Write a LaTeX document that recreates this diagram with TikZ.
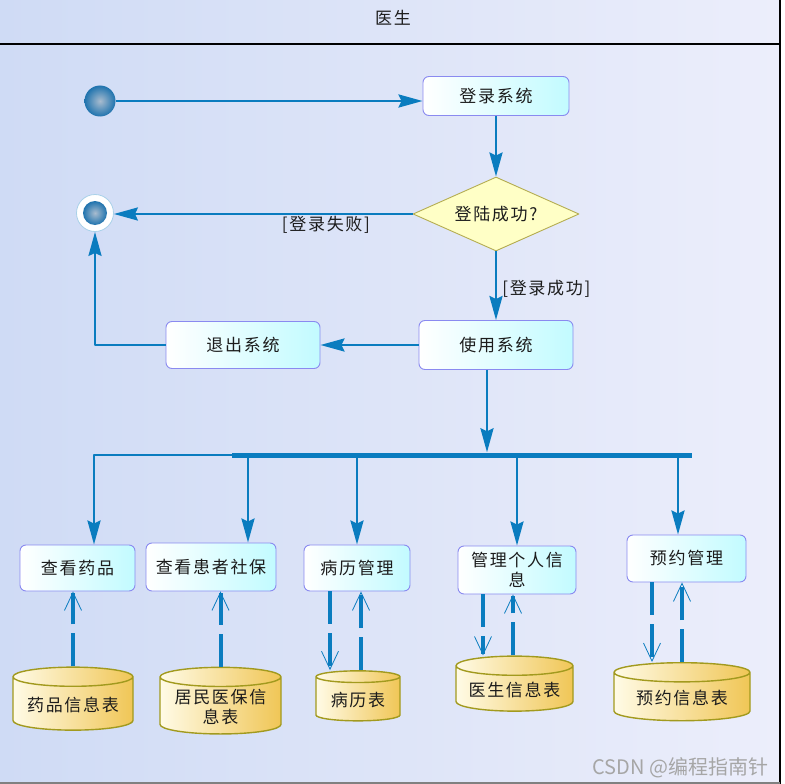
\documentclass[tikz,border=0pt]{standalone}
\usepackage{fontspec}
\usepackage{tikz}
\usetikzlibrary{arrows.meta,positioning,calc,shapes.geometric}
\newfontfamily\cjk[LetterSpace=10]{Noto Sans CJK SC}
\newfontfamily\marksans{Noto Sans CJK SC}
\definecolor{flowblue}{HTML}{0A7CBF}
\definecolor{boxline}{HTML}{8A8AF0}
\definecolor{boxcyan}{HTML}{C2FBFF}
\definecolor{diafill}{HTML}{FFFFC6}
\definecolor{diaedge}{HTML}{B4AC50}
\definecolor{storelight}{HTML}{FFFBE6}
\definecolor{storegold}{HTML}{F0C656}
\definecolor{storeedge}{HTML}{A29A1E}
\definecolor{bgleft}{HTML}{CFDBF5}
\definecolor{bgright}{HTML}{ECEEFB}
\definecolor{ballin}{HTML}{A9BCCF}
\definecolor{ballout}{HTML}{1F73AE}
\definecolor{ink}{HTML}{1C1C1C}
\tikzset{
    every picture/.style={line join=round},
    actbox/.style={draw=boxline,left color=white,right color=boxcyan,line width=0.9pt,
      rounded corners=6pt,inner sep=2pt,text=ink,align=center},
    decision/.style={diamond,draw=diaedge,fill=diafill,line width=0.9pt,aspect=2.25,
      inner sep=0pt,text=ink},
    store/.style={cylinder,shape border rotate=90,aspect=0.2,draw=storeedge,
      left color=storelight,right color=storegold,line width=1.4pt,inner sep=2pt,
      text=ink,align=center},
    ball/.style={circle,inner color=ballin,outer color=ballout,inner sep=0pt},
    flow/.style={draw=flowblue,line width=2.6pt,
      -{Stealth[length=24pt,width=13pt,inset=3pt]}},
    dataflow/.style={draw=flowblue,line width=4pt,dash pattern=on 33pt off 9pt,
      -{Straight Barb[length=18pt,width=17pt,line width'=0.8pt]}},
    guard/.style={text=ink,inner sep=1pt}
}
\begin{document}
\begin{tikzpicture}[x=1pt,y=-1pt,font=\cjk\fontsize{17}{20}\selectfont]
  \useasboundingbox (0,0) rectangle (785,784);
  \fill[left color=bgleft,right color=bgright] (0,0) rectangle (780,782);
  \draw[line width=2pt] (0,44) -- (780,44);
  \draw[line width=1.5pt] (780,0) -- (780,784);
  \draw[gray,line width=1.5pt] (0,783) -- (780,783);
  \node[text=ink] (title) at (393,18) {医生};

  \node[ball,minimum size=31pt] (init) at (100,101) {};
  \node[circle,draw=flowblue!35,fill=white,line width=0.8pt,minimum size=37pt] (final) at (95,213) {};
  \node[ball,minimum size=24pt] (finalin) at (final) {};
  \node[actbox,minimum width=146pt,minimum height=39pt] (login) at (496,96) {登录系统};
  \node[decision,minimum width=166pt,minimum height=74pt] (check) at (496,214) {登陆成功?};
  \node[actbox,minimum width=154pt,minimum height=49pt] (use) at (496,345) {使用系统};
  \node[actbox,minimum width=154pt,minimum height=47pt] (quit) at (243,345) {退出系统};
  \node[fill=flowblue,inner sep=0pt,minimum width=460pt,minimum height=5pt] (fork) at (462,455) {};

  \node[actbox,minimum width=115pt,minimum height=46pt] (a1) at (77.5,568) {查看药品};
  \node[actbox,minimum width=130pt,minimum height=48pt] (a2) at (211,567) {查看患者社保};
  \node[actbox,minimum width=106pt,minimum height=46pt] (a3) at (357,568) {病历管理};
  \node[actbox,minimum width=118pt,minimum height=48pt] (a4) at (517,570) {管理个人信\\息};
  \node[actbox,minimum width=119pt,minimum height=47pt] (a5) at (686.5,558.5) {预约管理};

  \node[store,minimum width=120pt,minimum height=63pt] (s1) at (73,705) {药品信息表};
  \node[store,minimum width=121pt,minimum height=66pt] (s2) at (220.5,707) {居民医保信\\息表};
  \node[store,minimum width=84pt,minimum height=50pt] (s3) at (358,700) {病历表};
  \node[store,minimum width=117pt,minimum height=55pt] (s4) at (514.5,690) {医生信息表};
  \node[store,minimum width=136pt,minimum height=58pt] (s5) at (682,698) {预约信息表};

  \draw[flow] (init.east) -- (init.east -| login.west);
  \draw[flow] (login.south) -- (check.north);
  \draw[flow] (check.west) -- node[guard,below,pos=0.29]{[登录失败]} (check.west -| final.east);
  \draw[flow] (check.south) -- node[guard,right=4pt,pos=0.55]{[登录成功]} (use.north);
  \draw[flow] (use.west) -- (quit.east);
  \draw[flow] (quit.west) -| (final.south);
  \draw[flow] ([xshift=-9pt]use.south) -- ([xshift=-9pt]use.south |- fork.north);

  \draw[flow] (fork.west) -| ([xshift=16.5pt]a1.north);
  \draw[flow] ([xshift=37pt]a2.north |- fork.south) -- ([xshift=37pt]a2.north);
  \draw[flow] (a3.north |- fork.south) -- (a3.north);
  \draw[flow] (a4.north |- fork.south) -- (a4.north);
  \draw[flow] ([xshift=-8.5pt]a5.north |- fork.south) -- ([xshift=-8.5pt]a5.north);

  \draw[dataflow] (s1.north) -- (s1.north |- a1.south);
  \draw[dataflow] (s2.north) -- (s2.north |- a2.south);
  \draw[dataflow] ([xshift=-28pt]s3.north |- a3.south) -- ([xshift=-28pt]s3.north);
  \draw[dataflow] ([xshift=3pt]s3.north) -- ([xshift=3pt]s3.north |- a3.south);
  \draw[dataflow] ([xshift=-31.5pt]s4.north |- a4.south) -- ([xshift=-31.5pt]s4.north);
  \draw[dataflow] ([xshift=-1.5pt]s4.north) -- ([xshift=-1.5pt]s4.north |- a4.south);
  \draw[dataflow] ([xshift=-30pt]s5.north |- a5.south) -- ([xshift=-30pt]s5.north);
  \draw[dataflow] (s5.north) -- (s5.north |- a5.south);

  \node[text=gray!70,font=\marksans\fontsize{20}{20}\selectfont,anchor=east] (mark) at (772,768) {CSDN @编程指南针};
\end{tikzpicture}
\end{document}
